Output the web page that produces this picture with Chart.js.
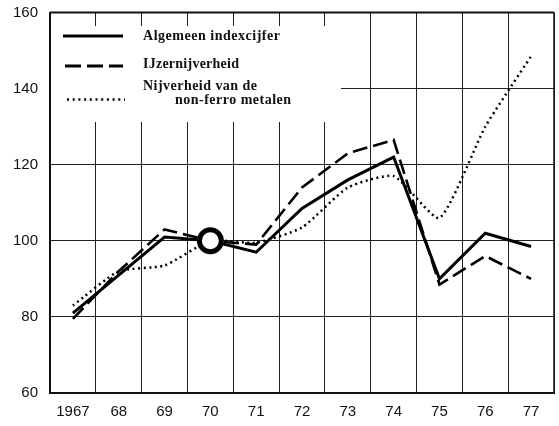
<!DOCTYPE html>
<html>
<head>
<meta charset="utf-8">
<script src="https://cdn.jsdelivr.net/npm/chart.js@4"></script>
<style>html,body{margin:0;padding:0;background:#fff}</style>
</head>
<body>
<canvas id="indexChart" width="559" height="426"></canvas>
<script>
'use strict';
let years=['1967','68','69','70','71','72','73','74','75','76','77'];
let algemeen=[81,91,101,100,97,108.5,116,122,90,102,98.5];
let ijzer=[79.5,92,103,100,99,114,123,126.5,88.5,96,90];
let nonFerro=[83,92,93.5,100,99.5,103.5,114,117,106,130,148.5];
let yTicks=[60,80,100,120,140,160];
let legendNames=['Algemeen indexcijfer','IJzernijverheid','Nijverheid van de','non-ferro metalen'];

// width a legend text must fill, like the print (letter spaced)
function fitText(ctx,text,x,y,width){
  ctx.letterSpacing='0px';
  let w=ctx.measureText(text).width;
  ctx.letterSpacing=((width-w)/(text.length-1))+'px';
  ctx.fillText(text,x,y);
  ctx.letterSpacing='0px';
}

let frameAndLegend={
  id:'frameAndLegend',
  beforeDatasetsDraw(chart){
    let ctx=chart.ctx;
    let a=chart.chartArea;
    ctx.save();
    // legend sits on a white patch over the grid
    ctx.fillStyle='#fff';
    ctx.fillRect(a.left+1,26,290,96);
    // top and right frame
    ctx.strokeStyle='#111';
    ctx.lineWidth=2;
    ctx.beginPath();
    ctx.moveTo(a.left,a.top);
    ctx.lineTo(a.right,a.top);
    ctx.stroke();
    ctx.lineWidth=1.5;
    ctx.beginPath();
    ctx.moveTo(a.right,a.top);
    ctx.lineTo(a.right,a.bottom);
    ctx.stroke();
    // legend lines
    ctx.strokeStyle='#000';
    ctx.lineWidth=3;
    ctx.beginPath();ctx.moveTo(63,36);ctx.lineTo(123,36);ctx.stroke();
    ctx.setLineDash([16,6]);
    ctx.beginPath();ctx.moveTo(65,66);ctx.lineTo(123,66);ctx.stroke();
    ctx.setLineDash([2,3.7]);
    ctx.lineWidth=2.4;
    ctx.beginPath();ctx.moveTo(67,99.5);ctx.lineTo(125,99.5);ctx.stroke();
    ctx.setLineDash([]);
    // legend texts
    ctx.fillStyle='#111';
    ctx.font='bold 14px "Liberation Serif"';
    ctx.textBaseline='middle';
    fitText(ctx,legendNames[0],143,36,137);
    fitText(ctx,legendNames[1],143,64.5,96);
    fitText(ctx,legendNames[2],143,86.5,114);
    fitText(ctx,legendNames[3],175,100.5,116);
    ctx.restore();
  }
};

new Chart(document.getElementById('indexChart'),{
  type:'line',
  data:{
    labels:years,
    datasets:[{
      label:legendNames[0],
      data:algemeen,
      borderColor:'#000',
      borderWidth:3,
      tension:0,
      pointRadius:algemeen.map((v,i)=>years[i]==='70'?11:0),
      pointBorderWidth:5,
      pointBorderColor:'#000',
      pointBackgroundColor:'#fff'
    },{
      label:legendNames[1],
      data:ijzer,
      borderColor:'#000',
      borderWidth:2.6,
      borderDash:[15,6],
      tension:0,
      pointRadius:0
    },{
      label:legendNames[2]+' '+legendNames[3],
      data:nonFerro,
      borderColor:'#000',
      borderWidth:2.5,
      borderDash:[2,3.5],
      tension:0.18,
      pointRadius:0
    }]
  },
  options:{
    responsive:false,
    animation:false,
    devicePixelRatio:1,
    layout:{padding:{top:12.5,right:5,left:0,bottom:0}},
    plugins:{legend:{display:false},tooltip:{enabled:false}},
    scales:{
      x:{
        type:'category',
        offset:true,
        grid:{offset:true,color:'#222',lineWidth:1,drawTicks:false},
        border:{color:'#111',width:2},
        ticks:{color:'#111',padding:10,font:{family:'"Liberation Sans"',size:15}},
        afterFit(scale){scale.height=33;}
      },
      y:{
        min:60,
        max:160,
        afterBuildTicks(scale){scale.ticks=yTicks.map(v=>({value:v}));},
        grid:{color:'#222',lineWidth:1,drawTicks:false},
        border:{color:'#111',width:2},
        ticks:{color:'#111',padding:12,font:{family:'"Liberation Sans"',size:15}},
        afterFit(scale){scale.width=50;scale.paddingTop=0;scale.paddingBottom=0;}
      }
    }
  },
  plugins:[frameAndLegend]
});
</script>
</body>
</html>
